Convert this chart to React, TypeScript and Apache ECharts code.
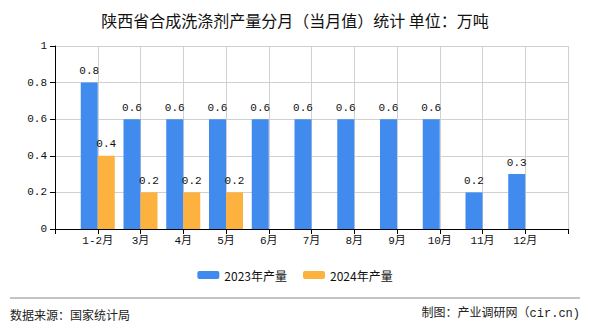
import React, { useEffect, useRef } from "react";
import * as echarts from "echarts";

const months = ["1-2月", "3月", "4月", "5月", "6月", "7月", "8月", "9月", "10月", "11月", "12月"];
const values2023 = [0.8, 0.6, 0.6, 0.6, 0.6, 0.6, 0.6, 0.6, 0.6, 0.2, 0.3];
const values2024 = [0.4, 0.2, 0.2, 0.2, null, null, null, null, null, null, null];
const seriesNames = ["2023年产量", "2024年产量"];
const titleText = "陕西省合成洗涤剂产量分月（当月值）统计 单位：万吨";
const sourceText = "数据来源：国家统计局";
const makerText = "制图：产业调研网（cir.cn)";

const MONO = "'Liberation Mono', 'DejaVu Sans Mono', 'Noto Sans CJK SC', monospace";
const CJK = "'Noto Sans CJK SC', sans-serif";

export default function App() {
  const ref = useRef<HTMLDivElement>(null);
  useEffect(() => {
    if (!ref.current) return;
    const chart = echarts.init(ref.current, null, { renderer: "svg" });
    const cats = ["", ...months, ""];
    const d23 = [null, ...values2023, null];
    const d24 = [null, ...values2024, null];
    const label = {
      show: true,
      position: "top",
      color: "#111",
      fontSize: 11,
      fontFamily: MONO,
      distance: 6,
    };
    chart.setOption({
      animation: false,
      backgroundColor: "#fff",
      title: {
        text: titleText,
        left: "center",
        top: 7,
        textStyle: { fontSize: 16, fontWeight: "normal", color: "#111", fontFamily: CJK },
      },
      legend: {
        data: seriesNames,
        bottom: 44,
        left: "center",
        itemWidth: 22,
        itemHeight: 8,
        itemGap: 16,
        textStyle: { fontSize: 12, color: "#111", fontFamily: CJK },
      },
      grid: { left: 55, right: 22, top: 46, bottom: 101 },
      xAxis: {
        type: "category",
        data: cats,
        boundaryGap: false,
        axisLine: { lineStyle: { color: "#000" } },
        axisTick: { show: true, lineStyle: { color: "#000" }, length: 5 },
        axisLabel: { color: "#111", fontSize: 11, fontFamily: MONO, interval: 0, margin: 6 },
        splitLine: { show: true, lineStyle: { color: "#d0d0d0" } },
      },
      yAxis: {
        type: "value",
        min: 0,
        max: 1,
        interval: 0.2,
        axisLine: { show: true, lineStyle: { color: "#000" } },
        axisTick: { show: true, lineStyle: { color: "#000" }, length: 5 },
        axisLabel: { color: "#111", fontSize: 11, fontFamily: MONO, margin: 8 },
        splitLine: { show: true, lineStyle: { color: "#d0d0d0" } },
      },
      series: [
        {
          name: seriesNames[0],
          type: "bar",
          data: d23,
          barWidth: 17,
          barGap: "0%",
          itemStyle: { color: "#418bef" },
          label,
        },
        {
          name: seriesNames[1],
          type: "bar",
          data: d24,
          barWidth: 17,
          barGap: "0%",
          itemStyle: { color: "#fdb13f" },
          label,
        },
      ],
      graphic: [
        {
          type: "line",
          shape: { x1: 10, y1: 298, x2: 580, y2: 298 },
          style: { stroke: "#888", lineWidth: 1 },
        },
        {
          type: "text",
          left: 10,
          top: 308,
          style: { text: sourceText, fill: "#222", font: "12px " + CJK },
        },
        {
          type: "text",
          right: 10,
          top: 308,
          style: { text: makerText, fill: "#222", font: "12px " + MONO },
        },
      ],
    });
    return () => chart.dispose();
  }, []);
  return <div ref={ref} style={{ width: 590, height: 330, margin: -8 }} />;
}
